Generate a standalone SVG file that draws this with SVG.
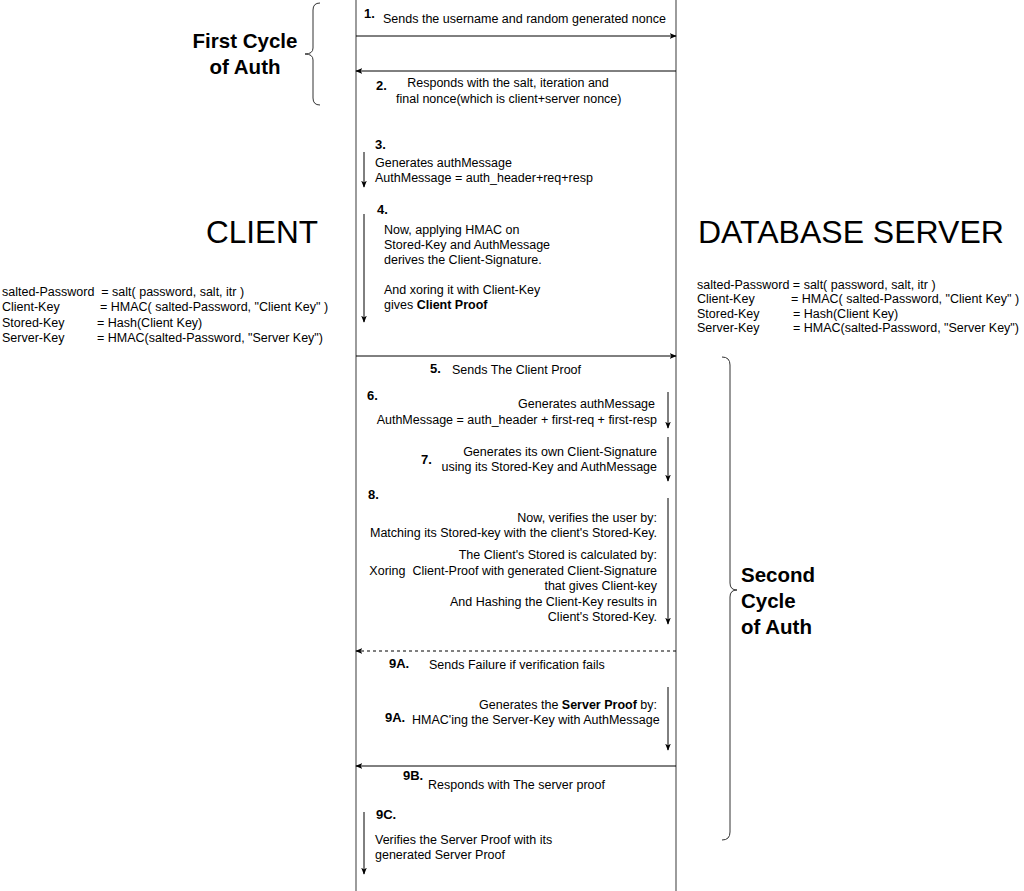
<svg xmlns="http://www.w3.org/2000/svg" width="1024" height="891" viewBox="0 0 1024 891">
<style>
text{font-family:"Liberation Sans",Arial,sans-serif;fill:#000;white-space:pre}
.t{font-size:12.5px}
.b{font-size:13px;font-weight:bold}
.r{text-anchor:end}
.big{font-size:31.5px}
.big2{font-size:32px}
.cyc{font-size:20.5px;font-weight:bold}
.life{stroke:#666;stroke-width:1.3;fill:none}
.msg{stroke:#000;stroke-width:1;fill:none}
.brace{stroke:#333;stroke-width:1;fill:none}
</style>
<defs>
<marker id="ah" viewBox="0 0 10 10" refX="9" refY="5" markerWidth="7" markerHeight="7" orient="auto" markerUnits="userSpaceOnUse">
<path d="M0,1 L10,5 L0,9 L2.5,5 Z" fill="#000"/>
</marker>
</defs>
<rect width="1024" height="891" fill="#fff"/>

<g id="client">
<line class="life" x1="356" y1="0" x2="356" y2="891"/>
<text class="big" x="206" y="243">CLIENT</text>
<text class="t" x="2" y="296">salted-Password  = salt( password, salt, itr )</text>
<text class="t" x="2" y="311">Client-Key</text><text class="t" x="100" y="311">= HMAC( salted-Password, "Client Key" )</text>
<text class="t" x="2" y="327">Stored-Key</text><text class="t" x="97" y="327">= Hash(Client Key)</text>
<text class="t" x="2" y="342">Server-Key</text><text class="t" x="97" y="342">= HMAC(salted-Password, "Server Key")</text>
</g>

<g id="server">
<line class="life" x1="676" y1="0" x2="676" y2="891"/>
<text class="big2" x="698" y="243">DATABASE SERVER</text>
<text class="t" x="697" y="289">salted-Password = salt( password, salt, itr )</text>
<text class="t" x="697" y="303">Client-Key</text><text class="t" x="791" y="303">= HMAC( salted-Password, "Client Key" )</text>
<text class="t" x="697" y="318">Stored-Key</text><text class="t" x="793" y="318">= Hash(Client Key)</text>
<text class="t" x="697" y="332">Server-Key</text><text class="t" x="793" y="332">= HMAC(salted-Password, "Server Key")</text>
</g>

<g id="first-cycle">
<path class="brace" d="M320,3 Q313,3 313,10 L313,48 Q313,54 305,54 Q313,54 313,60 L313,98 Q313,105 320,105"/>
<text class="cyc" x="245" y="48" text-anchor="middle">First Cycle</text>
<text class="cyc" x="245" y="74" text-anchor="middle">of Auth</text>
</g>

<g id="second-cycle">
<path class="brace" d="M722,357 Q730,357 730,365 L730,583 Q730,590 737,590 Q730,590 730,597 L730,832 Q730,840 722,840"/>
<text class="cyc" x="741" y="582">Second</text>
<text class="cyc" x="741" y="608">Cycle</text>
<text class="cyc" x="741" y="634">of Auth</text>
</g>

<g id="connectors">
<line class="msg" x1="356" y1="36" x2="676" y2="36" marker-end="url(#ah)"/>
<line class="msg" x1="676" y1="71" x2="356" y2="71" marker-end="url(#ah)"/>
<line class="msg" x1="364" y1="152" x2="364" y2="187" marker-end="url(#ah)"/>
<line class="msg" x1="364" y1="214" x2="364" y2="322" marker-end="url(#ah)"/>
<line class="msg" x1="356" y1="356" x2="676" y2="356" marker-end="url(#ah)"/>
<line class="msg" x1="668" y1="392" x2="668" y2="428" marker-end="url(#ah)"/>
<line class="msg" x1="668" y1="437" x2="668" y2="481" marker-end="url(#ah)"/>
<line class="msg" x1="668" y1="498" x2="668" y2="624" marker-end="url(#ah)"/>
<line class="msg" x1="676" y1="651" x2="356" y2="651" stroke-dasharray="3,3" marker-end="url(#ah)"/>
<line class="msg" x1="668" y1="687" x2="668" y2="750" marker-end="url(#ah)"/>
<line class="msg" x1="676" y1="766" x2="356" y2="766" marker-end="url(#ah)"/>
<line class="msg" x1="364" y1="812" x2="364" y2="874" marker-end="url(#ah)"/>
</g>

<g id="step1">
<text class="b" x="364" y="18">1.</text>
<text class="t" x="383" y="23">Sends the username and random generated nonce</text>
</g>
<g id="step2">
<text class="b" x="376" y="90">2.</text>
<text class="t" x="508" y="87" text-anchor="middle">Responds with the salt, iteration and</text>
<text class="t" x="396" y="103">final nonce(which is client+server nonce)</text>
</g>
<g id="step3">
<text class="b" x="375" y="149">3.</text>
<text class="t" x="375" y="167">Generates authMessage</text>
<text class="t" x="375" y="182">AuthMessage = auth_header+req+resp</text>
</g>
<g id="step4">
<text class="b" x="377" y="214">4.</text>
<text class="t" x="384" y="234">Now, applying HMAC on</text>
<text class="t" x="384" y="249">Stored-Key and AuthMessage</text>
<text class="t" x="384" y="264">derives the Client-Signature.</text>
<text class="t" x="384" y="294">And xoring it with Client-Key</text>
<text class="t" x="384" y="309">gives <tspan font-weight="bold">Client Proof</tspan></text>
</g>
<g id="step5">
<text class="b" x="430" y="373">5.</text>
<text class="t" x="452" y="374">Sends The Client Proof</text>
</g>
<g id="step6">
<text class="b" x="367" y="400">6.</text>
<text class="t r" x="655" y="408">Generates authMessage</text>
<text class="t r" x="657" y="424">AuthMessage = auth_header + first-req + first-resp</text>
</g>
<g id="step7">
<text class="b" x="421" y="464">7.</text>
<text class="t r" x="657" y="456">Generates its own Client-Signature</text>
<text class="t r" x="657" y="471">using its Stored-Key and AuthMessage</text>
</g>
<g id="step8">
<text class="b" x="368" y="499">8.</text>
<text class="t r" x="657" y="522">Now, verifies the user by:</text>
<text class="t r" x="657" y="537">Matching its Stored-key with the client's Stored-Key.</text>
<text class="t r" x="657" y="559">The Client's Stored is calculated by:</text>
<text class="t r" x="657" y="575">Xoring  Client-Proof with generated Client-Signature</text>
<text class="t r" x="657" y="590">that gives Client-key</text>
<text class="t r" x="657" y="606">And Hashing the Client-Key results in</text>
<text class="t r" x="657" y="621">Client's Stored-Key.</text>
</g>
<g id="step9a-fail">
<text class="b" x="389" y="668">9A.</text>
<text class="t" x="429" y="669">Sends Failure if verification fails</text>
</g>
<g id="step9a-proof">
<text class="t r" x="657" y="709">Generates the <tspan font-weight="bold">Server Proof</tspan> by:</text>
<text class="b" x="385" y="722">9A.</text>
<text class="t" x="412" y="724">HMAC'ing the Server-Key with AuthMessage</text>
</g>
<g id="step9b">
<text class="b" x="403" y="780">9B.</text>
<text class="t" x="428" y="789">Responds with The server proof</text>
</g>
<g id="step9c">
<text class="b" x="376" y="819">9C.</text>
<text class="t" x="375" y="844">Verifies the Server Proof with its</text>
<text class="t" x="375" y="859">generated Server Proof</text>
</g>
</svg>
